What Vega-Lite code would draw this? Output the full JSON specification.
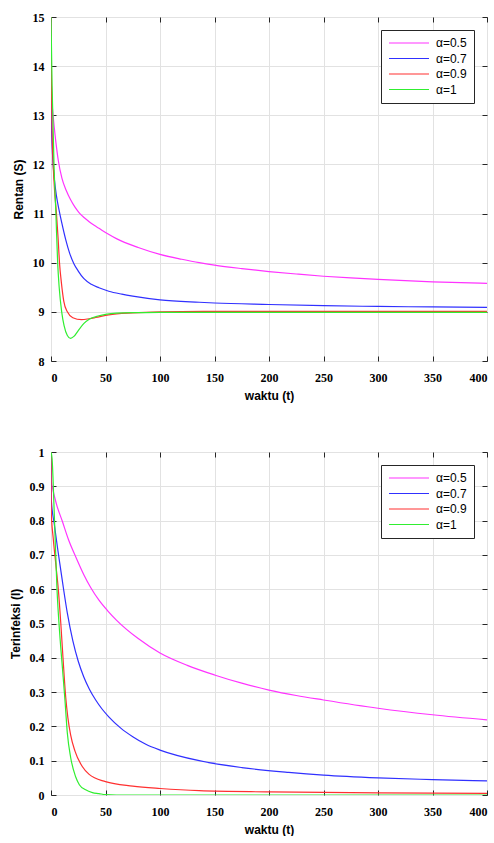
{
  "$schema": "https://vega.github.io/schema/vega-lite/v6.json",
  "padding": {"left": 8, "top": 10, "right": 0, "bottom": 0},
  "background": "white",
  "bounds": "flush",
  "spacing": 91,
  "config": {
    "view": {"stroke": "#262626", "strokeWidth": 1},
    "axis": {
      "labelFont": "Liberation Serif", "labelFontWeight": "bold", "labelFontSize": 12, "labelColor": "#000000",
      "titleFont": "Liberation Sans", "titleFontWeight": "bold", "titleFontSize": 12, "titleColor": "#000000",
      "gridColor": "#e2e2e2", "gridWidth": 1, "tickColor": "#262626", "domain": false
    },
    "legend": {
      "orient": "top-right", "offset": 13, "padding": 7, "strokeColor": "#262626", "fillColor": "white",
      "symbolType": "M-1,0H7", "symbolSize": 100, "symbolStrokeWidth": 1.2, "labelOffset": 36,
      "labelFont": "Liberation Sans", "labelFontSize": 12, "labelColor": "#000000", "rowPadding": 3.5, "title": null
    }
  },
  "datasets": {
    "S": [
      {"a":"α=0.5","t":0,"v":15},{"a":"α=0.5","t":0.05,"v":14.3},{"a":"α=0.5","t":0.2,"v":13.85},{"a":"α=0.5","t":0.5,"v":13.52},{"a":"α=0.5","t":1,"v":13.25},{"a":"α=0.5","t":2,"v":12.98},{"a":"α=0.5","t":3,"v":12.75},{"a":"α=0.5","t":4.5,"v":12.45},{"a":"α=0.5","t":6.7,"v":12.08},{"a":"α=0.5","t":10,"v":11.72},{"a":"α=0.5","t":14,"v":11.47},{"a":"α=0.5","t":18,"v":11.28},{"a":"α=0.5","t":22,"v":11.13},{"a":"α=0.5","t":25.7,"v":11.02},{"a":"α=0.5","t":30,"v":10.925},{"a":"α=0.5","t":35,"v":10.835},{"a":"α=0.5","t":40,"v":10.755},{"a":"α=0.5","t":44,"v":10.7},{"a":"α=0.5","t":52,"v":10.59},{"a":"α=0.5","t":60,"v":10.49},{"a":"α=0.5","t":80,"v":10.31},{"a":"α=0.5","t":100,"v":10.17},{"a":"α=0.5","t":120,"v":10.07},{"a":"α=0.5","t":136,"v":10.0},{"a":"α=0.5","t":150,"v":9.95},{"a":"α=0.5","t":175,"v":9.88},{"a":"α=0.5","t":200,"v":9.82},{"a":"α=0.5","t":225,"v":9.77},{"a":"α=0.5","t":250,"v":9.725},{"a":"α=0.5","t":275,"v":9.69},{"a":"α=0.5","t":300,"v":9.66},{"a":"α=0.5","t":350,"v":9.61},{"a":"α=0.5","t":400,"v":9.58},
      {"a":"α=0.7","t":0,"v":15},{"a":"α=0.7","t":0.1,"v":13.6},{"a":"α=0.7","t":0.3,"v":12.95},{"a":"α=0.7","t":1,"v":12.4},{"a":"α=0.7","t":1.8,"v":12.05},{"a":"α=0.7","t":3,"v":11.72},{"a":"α=0.7","t":5,"v":11.36},{"a":"α=0.7","t":7.5,"v":11.06},{"a":"α=0.7","t":10,"v":10.8},{"a":"α=0.7","t":13.5,"v":10.47},{"a":"α=0.7","t":17,"v":10.2},{"a":"α=0.7","t":21,"v":9.98},{"a":"α=0.7","t":25,"v":9.83},{"a":"α=0.7","t":30,"v":9.68},{"a":"α=0.7","t":37,"v":9.56},{"a":"α=0.7","t":44,"v":9.49},{"a":"α=0.7","t":53,"v":9.42},{"a":"α=0.7","t":65,"v":9.36},{"a":"α=0.7","t":75,"v":9.32},{"a":"α=0.7","t":100,"v":9.245},{"a":"α=0.7","t":136,"v":9.195},{"a":"α=0.7","t":150,"v":9.18},{"a":"α=0.7","t":200,"v":9.15},{"a":"α=0.7","t":250,"v":9.125},{"a":"α=0.7","t":300,"v":9.11},{"a":"α=0.7","t":350,"v":9.1},{"a":"α=0.7","t":400,"v":9.09},
      {"a":"α=0.9","t":0,"v":15},{"a":"α=0.9","t":0.5,"v":13.5},{"a":"α=0.9","t":1,"v":12.7},{"a":"α=0.9","t":2,"v":12.0},{"a":"α=0.9","t":3.5,"v":11.4},{"a":"α=0.9","t":5,"v":11.0},{"a":"α=0.9","t":6.5,"v":10.5},{"a":"α=0.9","t":7.8,"v":10.0},{"a":"α=0.9","t":9.5,"v":9.6},{"a":"α=0.9","t":11.7,"v":9.22},{"a":"α=0.9","t":15,"v":9.0},{"a":"α=0.9","t":20,"v":8.88},{"a":"α=0.9","t":28,"v":8.84},{"a":"α=0.9","t":35,"v":8.86},{"a":"α=0.9","t":41,"v":8.885},{"a":"α=0.9","t":53,"v":8.94},{"a":"α=0.9","t":75,"v":8.98},{"a":"α=0.9","t":100,"v":9.0},{"a":"α=0.9","t":150,"v":9.01},{"a":"α=0.9","t":400,"v":9.01},
      {"a":"α=1","t":0,"v":15},{"a":"α=1","t":1,"v":13.6},{"a":"α=1","t":2.75,"v":12.0},{"a":"α=1","t":4.5,"v":11.0},{"a":"α=1","t":6.1,"v":10.0},{"a":"α=1","t":7.5,"v":9.5},{"a":"α=1","t":9.8,"v":9.0},{"a":"α=1","t":12,"v":8.72},{"a":"α=1","t":15,"v":8.52},{"a":"α=1","t":18,"v":8.46},{"a":"α=1","t":21,"v":8.5},{"a":"α=1","t":25,"v":8.62},{"a":"α=1","t":30,"v":8.76},{"a":"α=1","t":35,"v":8.85},{"a":"α=1","t":44,"v":8.92},{"a":"α=1","t":50,"v":8.95},{"a":"α=1","t":60,"v":8.975},{"a":"α=1","t":80,"v":8.985},{"a":"α=1","t":100,"v":8.99},{"a":"α=1","t":400,"v":8.99}
    ],
    "I": [
      {"a":"α=0.5","t":0,"v":1},{"a":"α=0.5","t":0.1,"v":0.93},{"a":"α=0.5","t":0.5,"v":0.91},{"a":"α=0.5","t":1.2,"v":0.898},{"a":"α=0.5","t":5,"v":0.848},{"a":"α=0.5","t":10.4,"v":0.798},{"a":"α=0.5","t":16,"v":0.745},{"a":"α=0.5","t":22.6,"v":0.695},{"a":"α=0.5","t":30,"v":0.643},{"a":"α=0.5","t":36.4,"v":0.605},{"a":"α=0.5","t":44,"v":0.568},{"a":"α=0.5","t":52,"v":0.537},{"a":"α=0.5","t":60,"v":0.51},{"a":"α=0.5","t":80,"v":0.456},{"a":"α=0.5","t":100,"v":0.414},{"a":"α=0.5","t":125,"v":0.378},{"a":"α=0.5","t":150,"v":0.35},{"a":"α=0.5","t":175,"v":0.326},{"a":"α=0.5","t":200,"v":0.306},{"a":"α=0.5","t":225,"v":0.29},{"a":"α=0.5","t":250,"v":0.277},{"a":"α=0.5","t":300,"v":0.253},{"a":"α=0.5","t":350,"v":0.234},{"a":"α=0.5","t":400,"v":0.219},
      {"a":"α=0.7","t":0,"v":1},{"a":"α=0.7","t":0.1,"v":0.9},{"a":"α=0.7","t":0.3,"v":0.86},{"a":"α=0.7","t":3,"v":0.79},{"a":"α=0.7","t":6,"v":0.72},{"a":"α=0.7","t":9,"v":0.655},{"a":"α=0.7","t":11.3,"v":0.605},{"a":"α=0.7","t":15,"v":0.53},{"a":"α=0.7","t":20,"v":0.45},{"a":"α=0.7","t":25,"v":0.39},{"a":"α=0.7","t":30,"v":0.345},{"a":"α=0.7","t":35,"v":0.31},{"a":"α=0.7","t":41,"v":0.277},{"a":"α=0.7","t":47,"v":0.25},{"a":"α=0.7","t":53,"v":0.228},{"a":"α=0.7","t":64,"v":0.195},{"a":"α=0.7","t":75,"v":0.17},{"a":"α=0.7","t":87,"v":0.148},{"a":"α=0.7","t":100,"v":0.131},{"a":"α=0.7","t":136,"v":0.1},{"a":"α=0.7","t":175,"v":0.08},{"a":"α=0.7","t":218,"v":0.066},{"a":"α=0.7","t":250,"v":0.058},{"a":"α=0.7","t":300,"v":0.05},{"a":"α=0.7","t":350,"v":0.045},{"a":"α=0.7","t":400,"v":0.041},
      {"a":"α=0.9","t":0,"v":1},{"a":"α=0.9","t":0.1,"v":0.88},{"a":"α=0.9","t":0.3,"v":0.82},{"a":"α=0.9","t":2,"v":0.75},{"a":"α=0.9","t":4.5,"v":0.67},{"a":"α=0.9","t":6.7,"v":0.6},{"a":"α=0.9","t":9,"v":0.5},{"a":"α=0.9","t":11,"v":0.4},{"a":"α=0.9","t":13.5,"v":0.285},{"a":"α=0.9","t":15.5,"v":0.225},{"a":"α=0.9","t":18,"v":0.175},{"a":"α=0.9","t":22,"v":0.128},{"a":"α=0.9","t":28.7,"v":0.083},{"a":"α=0.9","t":35,"v":0.06},{"a":"α=0.9","t":50,"v":0.039},{"a":"α=0.9","t":75,"v":0.026},{"a":"α=0.9","t":100,"v":0.019},{"a":"α=0.9","t":136,"v":0.0125},{"a":"α=0.9","t":200,"v":0.009},{"a":"α=0.9","t":300,"v":0.006},{"a":"α=0.9","t":400,"v":0.005},
      {"a":"α=1","t":0,"v":1},{"a":"α=1","t":1,"v":0.98},{"a":"α=1","t":3,"v":0.82},{"a":"α=1","t":5.5,"v":0.6},{"a":"α=1","t":8,"v":0.47},{"a":"α=1","t":10.5,"v":0.37},{"a":"α=1","t":12.8,"v":0.277},{"a":"α=1","t":15,"v":0.18},{"a":"α=1","t":18,"v":0.11},{"a":"α=1","t":22.6,"v":0.053},{"a":"α=1","t":26,"v":0.03},{"a":"α=1","t":31.8,"v":0.015},{"a":"α=1","t":38,"v":0.007},{"a":"α=1","t":44,"v":0.004},{"a":"α=1","t":50,"v":0.001},{"a":"α=1","t":60,"v":0},{"a":"α=1","t":400,"v":0}
    ]
  },
  "resolve": {"scale": {"color": "independent"}, "legend": {"color": "independent"}},
  "vconcat": [
    {
      "width": 436, "height": 344,
      "data": {"name": "S"},
      "layer": [
        {
          "mark": {"type": "line", "strokeWidth": 1.2, "interpolate": "monotone", "clip": true},
          "encoding": {
            "x": {"field": "t", "type": "quantitative", "scale": {"domain": [0, 400], "nice": false},
                  "axis": {"values": [0,50,100,150,200,250,300,350,400], "title": "waktu (t)", "tickSize": -5, "labelPadding": 16, "titlePadding": 7}},
            "y": {"field": "v", "type": "quantitative", "scale": {"domain": [8, 15], "nice": false, "zero": false},
                  "axis": {"values": [8,9,10,11,12,13,14,15], "title": "Rentan (S)", "tickSize": -5, "labelPadding": 12, "titlePadding": 7}},
            "color": {"field": "a", "type": "nominal", "scale": {"domain": ["α=0.5","α=0.7","α=0.9","α=1"], "range": ["#ff33ff","#3030ff","#ff3030","#30ee30"]}}
          }
        },
        {
          "mark": {"type": "line", "strokeOpacity": 0},
          "encoding": {
            "x": {"field": "t", "type": "quantitative", "scale": {"domain": [0, 400], "nice": false},
                  "axis": {"orient": "top", "values": [0,50,100,150,200,250,300,350,400], "labels": false, "grid": false, "title": null, "tickSize": -5}},
            "y": {"field": "v", "type": "quantitative", "scale": {"domain": [8, 15], "nice": false, "zero": false},
                  "axis": {"orient": "right", "values": [8,9,10,11,12,13,14,15], "labels": false, "grid": false, "title": null, "tickSize": -5}},
            "detail": {"field": "a"}
          }
        }
      ],
      "resolve": {"axis": {"x": "independent", "y": "independent"}}
    },
    {
      "width": 436, "height": 343,
      "data": {"name": "I"},
      "layer": [
        {
          "mark": {"type": "line", "strokeWidth": 1.2, "interpolate": "monotone", "clip": true},
          "encoding": {
            "x": {"field": "t", "type": "quantitative", "scale": {"domain": [0, 400], "nice": false},
                  "axis": {"values": [0,50,100,150,200,250,300,350,400], "title": "waktu (t)", "tickSize": -5, "labelPadding": 16, "titlePadding": 7}},
            "y": {"field": "v", "type": "quantitative", "scale": {"domain": [0, 1], "nice": false},
                  "axis": {"values": [0,0.1,0.2,0.3,0.4,0.5,0.6,0.7,0.8,0.9,1], "format": "~g", "title": "Terinfeksi (I)", "tickSize": -5, "labelPadding": 12, "titlePadding": 7}},
            "color": {"field": "a", "type": "nominal", "scale": {"domain": ["α=0.5","α=0.7","α=0.9","α=1"], "range": ["#ff33ff","#3030ff","#ff3030","#30ee30"]}}
          }
        },
        {
          "mark": {"type": "line", "strokeOpacity": 0},
          "encoding": {
            "x": {"field": "t", "type": "quantitative", "scale": {"domain": [0, 400], "nice": false},
                  "axis": {"orient": "top", "values": [0,50,100,150,200,250,300,350,400], "labels": false, "grid": false, "title": null, "tickSize": -5}},
            "y": {"field": "v", "type": "quantitative", "scale": {"domain": [0, 1], "nice": false},
                  "axis": {"orient": "right", "values": [0,0.1,0.2,0.3,0.4,0.5,0.6,0.7,0.8,0.9,1], "labels": false, "grid": false, "title": null, "tickSize": -5}},
            "detail": {"field": "a"}
          }
        }
      ],
      "resolve": {"axis": {"x": "independent", "y": "independent"}}
    }
  ]
}
